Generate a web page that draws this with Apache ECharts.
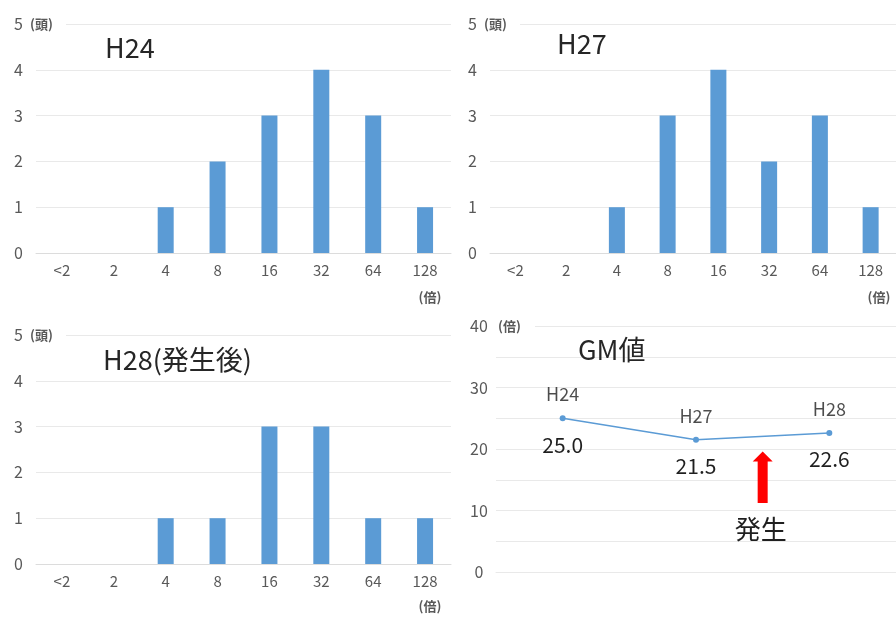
<!DOCTYPE html>
<html>
<head>
<meta charset="utf-8">
<script src="https://cdn.jsdelivr.net/npm/echarts@6/dist/echarts.min.js"></script>
<style>
  html, body { margin: 0; padding: 0; background: #ffffff; }
  #c { width: 896px; height: 617px; }
</style>
</head>
<body>
<div id="c"></div>
<script>
// Antibody titer distribution (head counts) per survey year
const titerCategories = ['<2', '2', '4', '8', '16', '32', '64', '128'];
const countsH24 = [0, 0, 1, 2, 3, 4, 3, 1];
const countsH27 = [0, 0, 1, 3, 4, 2, 3, 1];
const countsH28 = [0, 0, 1, 1, 3, 3, 1, 1];
const countTicks = [0, 1, 2, 3, 4, 5];

// Geometric mean titer per year
const gmYears = ['H24', 'H27', 'H28'];
const gmValues = [25.0, 21.5, 22.6];
const gmTicks = [0, 10, 20, 30, 40];

const FONT = '"Noto Sans CJK JP", "Noto Sans", sans-serif';
const BAR_COLOR = '#5B9BD5';
const GRID_COLOR = '#e9e9e9';
const LABEL_COLOR = '#595959';
const TEXT_DARK = '#1f1f1f';

const grids = [
  { left: 36,  top: 24,  width: 415, height: 229 },
  { left: 490, top: 24,  width: 417, height: 229 },
  { left: 36,  top: 335, width: 415, height: 229 },
  { left: 496, top: 326, width: 411, height: 246 }
];

function barXAxis(gridIndex) {
  return {
    type: 'category', gridIndex, data: titerCategories,
    axisTick: { show: false },
    axisLine: { lineStyle: { color: '#dcdcdc' } },
    axisLabel: { color: LABEL_COLOR, fontFamily: FONT, fontSize: 15, margin: 10 }
  };
}
function barYAxis(gridIndex) {
  return {
    type: 'value', gridIndex,
    min: countTicks[0], max: countTicks[countTicks.length - 1], interval: 1,
    axisLine: { show: false }, axisTick: { show: false },
    splitLine: { lineStyle: { color: GRID_COLOR } },
    axisLabel: { color: LABEL_COLOR, fontFamily: FONT, fontSize: 16, margin: 13 }
  };
}
function barSeries(idx, data) {
  return {
    type: 'bar', xAxisIndex: idx, yAxisIndex: idx, data,
    barWidth: 16, itemStyle: { color: BAR_COLOR }, silent: true
  };
}

const panelTitle = (text, left, top) => ({
  text, left, top,
  textStyle: { fontFamily: FONT, fontSize: 27, fontWeight: 'normal', color: '#262626' }
});

const option = {
  animation: false,
  backgroundColor: '#ffffff',
  title: [
    panelTitle('H24', 100, 29),
    panelTitle('H27', 552, 25),
    panelTitle('H28(発生後)', 98, 341),
    panelTitle('GM値', 573, 331)
  ],
  grid: grids,
  xAxis: [
    barXAxis(0), barXAxis(1), barXAxis(2),
    {
      type: 'category', gridIndex: 3, data: gmYears,
      axisTick: { show: false }, axisLabel: { show: false },
      axisLine: { lineStyle: { color: GRID_COLOR } }
    }
  ],
  yAxis: [
    barYAxis(0), barYAxis(1), barYAxis(2),
    {
      type: 'value', gridIndex: 3,
      min: gmTicks[0], max: gmTicks[gmTicks.length - 1], interval: 5,
      axisLine: { show: false }, axisTick: { show: false },
      splitLine: { lineStyle: { color: GRID_COLOR } },
      axisLabel: {
        color: LABEL_COLOR, fontFamily: FONT, fontSize: 16, margin: 17, align: 'center',
        formatter: v => (gmTicks.indexOf(v) >= 0 ? String(v) : '')
      }
    }
  ],
  series: [
    barSeries(0, countsH24),
    barSeries(1, countsH27),
    barSeries(2, countsH28),
    {
      type: 'line', xAxisIndex: 3, yAxisIndex: 3, data: gmValues,
      symbol: 'circle', symbolSize: 6,
      lineStyle: { color: BAR_COLOR, width: 1.5 },
      itemStyle: { color: BAR_COLOR },
      label: {
        show: true, position: 'bottom', distance: 13,
        color: TEXT_DARK, fontFamily: FONT, fontSize: 21,
        formatter: p => p.value.toFixed(1)
      }
    },
    {
      type: 'scatter', xAxisIndex: 3, yAxisIndex: 3, data: gmValues,
      symbolSize: 0, silent: true,
      label: {
        show: true, position: 'top', distance: 15,
        color: TEXT_DARK, fontFamily: FONT, fontSize: 18,
        formatter: p => gmYears[p.dataIndex]
      }
    }
  ]
};

const chart = echarts.init(document.getElementById('c'), null, { renderer: 'canvas' });
chart.setOption(option);

// Unit captions: white patch hides the top grid line behind the caption
function unitCaption(text, x, y, patchW) {
  return [
    { type: 'rect', z: 100, shape: { x: x - 3, y: y - 8, width: patchW, height: 16 }, style: { fill: '#ffffff' } },
    { type: 'text', z: 101, x, y, style: { text, fill: LABEL_COLOR, font: 'bold 13px ' + FONT, textVerticalAlign: 'middle' } }
  ];
}
function xUnit(x, y) {
  return { type: 'text', z: 101, x, y, style: { text: '(倍)', fill: LABEL_COLOR, font: 'bold 13px ' + FONT, textAlign: 'center', textVerticalAlign: 'middle' } };
}

// "発生" marker between H27 and H28
const pA = chart.convertToPixel({ gridIndex: 3 }, [1, 19.6]);
const pB = chart.convertToPixel({ gridIndex: 3 }, [2, 11.2]);
const ax = (pA[0] + pB[0]) / 2;
const tipY = pA[1], baseY = pB[1];
const arrow = {
  type: 'polygon', z: 50,
  shape: {
    points: [
      [ax, tipY], [ax + 10, tipY + 10], [ax + 5, tipY + 10], [ax + 5, baseY],
      [ax - 5, baseY], [ax - 5, tipY + 10], [ax - 10, tipY + 10]
    ]
  },
  style: { fill: '#ff0000' }
};
const arrowText = {
  type: 'text', z: 50, x: ax - 2, y: baseY + 26,
  style: { text: '発生', fill: TEXT_DARK, font: '26px ' + FONT, textAlign: 'center', textVerticalAlign: 'middle' }
};

chart.setOption({
  graphic: [
    ...unitCaption('(頭)', 30, 24, 39),
    ...unitCaption('(頭)', 484, 24, 39),
    ...unitCaption('(頭)', 30, 335, 39),
    ...unitCaption('(倍)', 498, 326, 40),
    xUnit(430, 297), xUnit(879, 297), xUnit(430, 606),
    arrow, arrowText
  ]
});
</script>
</body>
</html>
